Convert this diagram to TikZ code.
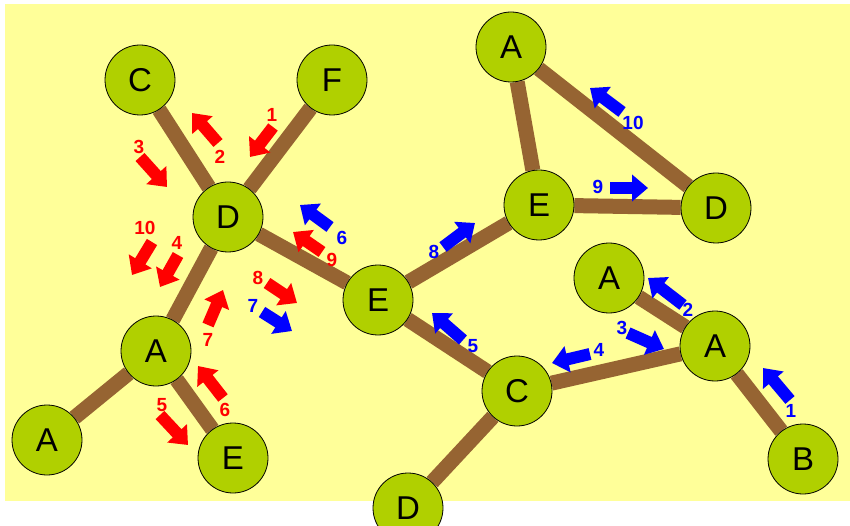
\documentclass[tikz,border=0pt]{standalone}
\usepackage{fontspec}
\setmainfont{Liberation Sans}
\usetikzlibrary{arrows.meta,backgrounds}
\definecolor{bgyellow}{RGB}{255,255,153}
\definecolor{leaf}{RGB}{176,208,0}
\definecolor{bark}{RGB}{150,100,50}

\begin{document}
\begin{tikzpicture}[x=1pt,y=-1pt,
    vertex/.style={circle,draw=black,line width=0.8pt,fill=leaf,minimum size=70pt,inner sep=0pt,font=\fontsize{33}{33}\selectfont},
    branch/.style={line width=15pt,bark},
    move/.style={line width=12pt,-{Triangle[width=26pt,length=16pt]}},
    num/.style={font=\bfseries\fontsize{19}{19}\selectfont,inner sep=0pt}]

\useasboundingbox (0,0) rectangle (850,526);

\node[vertex] (c1) at (140,80) {C};
\node[vertex] (f1) at (332,80) {F};
\node[vertex] (d1) at (228,217) {D};
\node[vertex] (a1) at (156,351) {A};
\node[vertex] (a2) at (47,440) {A};
\node[vertex] (e1) at (233,458) {E};
\node[vertex] (e2) at (378,300) {E};
\node[vertex] (a3) at (511,47) {A};
\node[vertex] (e3) at (539,205) {E};
\node[vertex] (d2) at (716,208) {D};
\node[vertex] (a4) at (609,278) {A};
\node[vertex] (a5) at (715,346) {A};
\node[vertex] (c2) at (517,391) {C};
\node[vertex] (d3) at (408,508) {D};
\node[vertex] (b1) at (803,459) {B};

\begin{scope}[on background layer]
\fill[bgyellow] (5,4) rectangle (850,501);
\draw[branch] (c1) -- (d1);
\draw[branch] (f1) -- (d1);
\draw[branch] (d1) -- (a1);
\draw[branch] (a1) -- (a2);
\draw[branch] (a1) -- (e1);
\draw[branch] (d1) -- (e2);
\draw[branch] (e2) -- (e3);
\draw[branch] (e2) -- (c2);
\draw[branch] (c2) -- (d3);
\draw[branch] (c2) -- (a5);
\draw[branch] (a5) -- (a4);
\draw[branch] (a5) -- (b1);
\draw[branch] (e3) -- (a3);
\draw[branch] (e3) -- (d2);
\draw[branch] (a3) -- (d2);
\end{scope}

% red moves
\foreach \tail/\tip/\lbl/\n in {
    {(273,127)}/{(250,157)}/{(272,115)}/1,
    {(218,143)}/{(192,113)}/{(220,157)}/2,
    {(140,157)}/{(167,187)}/{(139,147)}/3,
    {(178,255)}/{(160,287)}/{(177,243)}/4,
    {(160,415)}/{(188,445)}/{(162,405)}/5,
    {(223,398)}/{(198,366)}/{(225,410)}/6,
    {(208,325)}/{(223,290)}/{(208,340)}/7,
    {(267,283)}/{(297,303)}/{(258,278)}/8,
    {(322,252)}/{(293,232)}/{(332,260)}/9,
    {(152,242)}/{(132,275)}/{(145,228)}/10}{
  \draw[move,red] \tail -- \tip;
  \node[num,text=red] (r\n) at \lbl {\n};
}

% blue moves
\foreach \tail/\tip/\lbl/\n in {
    {(790,400)}/{(763,368)}/{(791,411)}/1,
    {(683,305)}/{(648,278)}/{(688,310)}/2,
    {(628,333)}/{(664,349)}/{(622,328)}/3,
    {(590,354)}/{(552,363)}/{(599,350)}/4,
    {(463,340)}/{(432,313)}/{(473,346)}/5,
    {(330,227)}/{(300,205)}/{(342,238)}/6,
    {(262,312)}/{(292,331)}/{(253,306)}/7,
    {(443,247)}/{(475,223)}/{(434,252)}/8,
    {(610,188)}/{(648,188)}/{(598,187)}/9,
    {(622,112)}/{(590,88)}/{(633,123)}/10}{
  \draw[move,blue] \tail -- \tip;
  \node[num,text=blue] (b\n) at \lbl {\n};
}
\end{tikzpicture}
\end{document}
